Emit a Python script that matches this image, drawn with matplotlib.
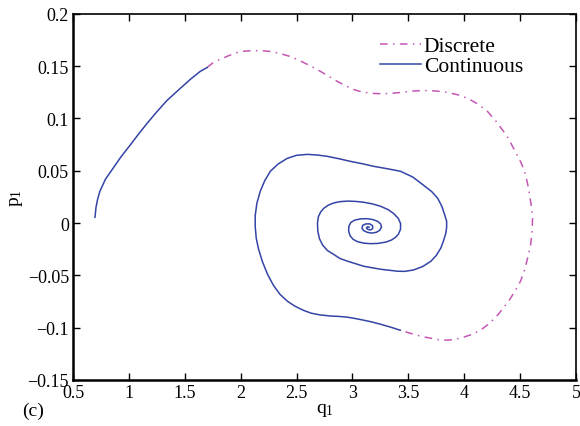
import matplotlib
matplotlib.use("Agg")
import matplotlib.pyplot as plt

plt.rcParams['font.family'] = ['Liberation Serif', 'DejaVu Serif']
plt.rcParams['mathtext.default'] = 'regular'

# continuous trajectory, first part (start -> switch to discrete)
q_cont1 = [0.696, 0.705, 0.720, 0.740, 0.790, 0.857, 0.930, 1.009, 1.085, 1.162,
           1.250, 1.341, 1.458, 1.550, 1.637, 1.700]
p_cont1 = [0.0055, 0.0150, 0.0230, 0.0304, 0.0420, 0.0523, 0.0635, 0.0743, 0.0850, 0.0953,
           0.1065, 0.1173, 0.1287, 0.1375, 0.1450, 0.1488]

# discrete part
q_disc = [1.700, 1.760, 1.817, 1.890, 1.969, 2.040, 2.113, 2.190, 2.265, 2.350,
          2.444, 2.520, 2.597, 2.665, 2.731, 2.800, 2.866, 2.940, 3.009, 3.090,
          3.180, 3.260, 3.341, 3.431, 3.530, 3.637, 3.750, 3.853, 3.950, 4.032,
          4.120, 4.208, 4.280, 4.352, 4.400, 4.442, 4.490, 4.531, 4.556, 4.576,
          4.597, 4.612, 4.607, 4.594, 4.567, 4.540, 4.504, 4.460, 4.415, 4.360,
          4.298, 4.225, 4.146, 4.070, 3.993, 3.920, 3.850, 3.770, 3.698, 3.620,
          3.545, 3.428]
p_disc = [0.1488, 0.1540, 0.1565, 0.1600, 0.1631, 0.1645, 0.1650, 0.1648, 0.1641, 0.1622,
          0.1593, 0.1558, 0.1517, 0.1480, 0.1440, 0.1395, 0.1354, 0.1312, 0.1278, 0.1252,
          0.1240, 0.1237, 0.1240, 0.1249, 0.1262, 0.1268, 0.1263, 0.1249, 0.1225, 0.1192,
          0.1140, 0.1068, 0.0980, 0.0877, 0.0800, 0.0714, 0.0620, 0.0523, 0.0430, 0.0332,
          0.0190, 0.0046, -0.0090, -0.0212, -0.0337, -0.0450, -0.0557, -0.0640, -0.0719, -0.0800,
          -0.0882, -0.0960, -0.1025, -0.1065, -0.1092, -0.1112, -0.1120, -0.1115, -0.1101, -0.1085,
          -0.1063, -0.1025]

# continuous trajectory, second part (spiral into the centre)
q_cont2 = [3.428, 3.340, 3.249, 3.170, 3.096, 3.020, 2.953, 2.880, 2.803, 2.713,
           2.630, 2.560, 2.485, 2.417, 2.350, 2.292, 2.240, 2.193, 2.160, 2.139,
           2.130, 2.130, 2.145, 2.175, 2.215, 2.265, 2.335, 2.417, 2.500, 2.597,
           2.690, 2.776, 2.880, 2.982, 3.090, 3.188, 3.310, 3.431, 3.540, 3.637,
           3.710, 3.763, 3.800, 3.825, 3.843, 3.843, 3.835, 3.815, 3.790, 3.750,
           3.701, 3.630, 3.549, 3.470, 3.405, 3.253, 3.100, 2.957, 2.890, 2.832,
           2.775, 2.733, 2.705, 2.690, 2.687, 2.695, 2.715, 2.742, 2.785, 2.832,
           2.890, 2.957, 3.030, 3.100, 3.180, 3.253, 3.320, 3.370, 3.410, 3.431,
           3.430, 3.412, 3.387, 3.350, 3.300, 3.225, 3.160, 3.100, 3.045, 3.005,
           2.978, 2.966, 2.968, 2.985, 3.020, 3.074, 3.130, 3.180, 3.225, 3.252,
           3.260, 3.245, 3.215, 3.175, 3.135, 3.100, 3.085, 3.092, 3.120, 3.155,
           3.180, 3.182, 3.165, 3.140, 3.125, 3.135, 3.150]
p_cont2 = [-0.1025, -0.0995, -0.0967, -0.0945, -0.0928, -0.0912, -0.0900, -0.0893, -0.0889, -0.0879,
           -0.0862, -0.0834, -0.0795, -0.0747, -0.0680, -0.0594, -0.0490, -0.0365, -0.0250, -0.0145,
           -0.0035, 0.0074, 0.0190, 0.0304, 0.0405, 0.0495, 0.0565, 0.0619, 0.0648, 0.0657,
           0.0650, 0.0638, 0.0615, 0.0590, 0.0567, 0.0543, 0.0520, 0.0495, 0.0440, 0.0361,
           0.0300, 0.0237, 0.0160, 0.0080, 0.0017, -0.0040, -0.0100, -0.0170, -0.0241, -0.0310,
           -0.0366, -0.0415, -0.0448, -0.0462, -0.0461, -0.0442, -0.0413, -0.0365, -0.0340, -0.0300,
           -0.0262, -0.0210, -0.0150, -0.0078, 0.0000, 0.0060, 0.0105, 0.0140, 0.0172, 0.0192,
           0.0205, 0.0210, 0.0207, 0.0199, 0.0183, 0.0160, 0.0128, 0.0090, 0.0045, -0.0005,
           -0.0060, -0.0105, -0.0135, -0.0162, -0.0182, -0.0195, -0.0197, -0.0192, -0.0178, -0.0155,
           -0.0120, -0.0075, -0.0030, 0.0005, 0.0028, 0.0040, 0.0042, 0.0034, 0.0017, -0.0008,
           -0.0038, -0.0068, -0.0088, -0.0096, -0.0090, -0.0072, -0.0048, -0.0022, -0.0008, -0.0008,
           -0.0025, -0.0050, -0.0065, -0.0062, -0.0048, -0.0035, -0.0040]

xticks = [0.5, 1, 1.5, 2, 2.5, 3, 3.5, 4, 4.5, 5]
yticks = [-0.15, -0.1, -0.05, 0, 0.05, 0.1, 0.15, 0.2]
xlabels = ['0.5', '1', '1.5', '2', '2.5', '3', '3.5', '4', '4.5', '5']
ylabels = ['\u22120.15', '\u22120.1', '\u22120.05', '0', '0.05', '0.1', '0.15', '0.2']

disc_color = '#c456b4'
cont_color = '#3344a6'

fig = plt.figure(figsize=(5.8, 4.27), dpi=100)
ax = fig.add_axes([0.126, 0.108, 0.867, 0.857])

ax.plot(q_disc, p_disc, color=disc_color, lw=1.1, linestyle=(0, (5, 3.5, 1, 3.5)), label='Discrete')
ax.plot(q_cont1, p_cont1, color=cont_color, lw=1.1, label='Continuous')
ax.plot(q_cont2, p_cont2, color=cont_color, lw=1.1)

ax.set_xlim(0.5, 5)
ax.set_ylim(-0.15, 0.2)
ax.set_xticks(xticks)
ax.set_xticklabels(xlabels)
ax.set_yticks(yticks)
ax.set_yticklabels(ylabels)
ax.tick_params(direction='in', top=True, right=True, length=5, width=1, labelsize=13, pad=3)
for s in ax.spines.values():
    s.set_linewidth(1.2)
ax.spines['left'].set_linewidth(1.8)
ax.spines['bottom'].set_linewidth(1.8)

ax.set_xlabel('q$_1$', fontsize=14, labelpad=0)
ax.set_ylabel('p$_1$', fontsize=14, labelpad=2)

ax.legend(loc='upper right', bbox_to_anchor=(0.925, 0.98), frameon=False, fontsize=15.5,
          handlelength=1.9, handletextpad=0.15, labelspacing=0.0, borderaxespad=0.3)

fig.text(0.038, 0.025, '(c)', fontsize=14)

fig.savefig('out.png', dpi=100)
